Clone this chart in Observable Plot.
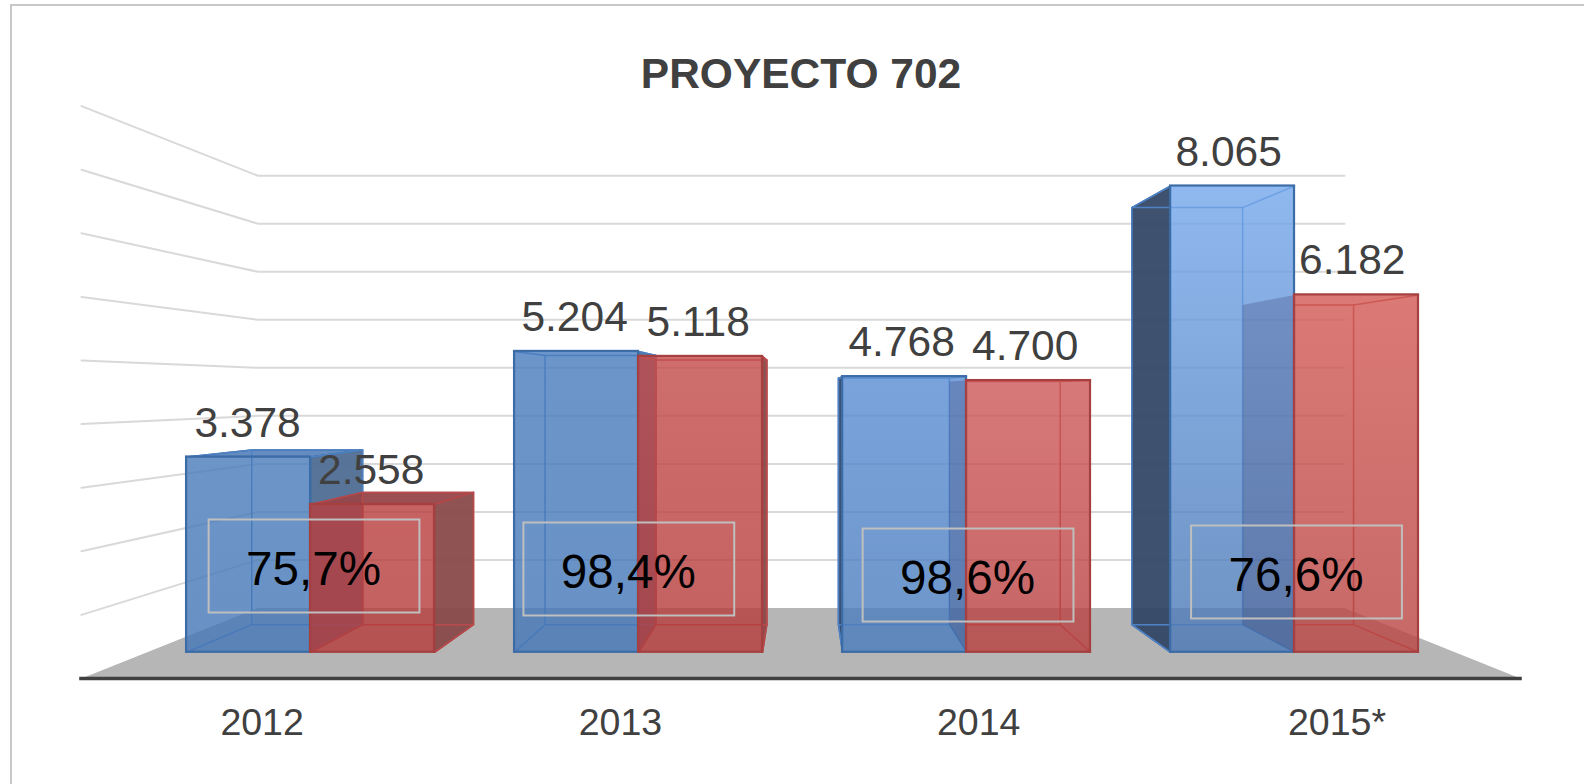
<!DOCTYPE html>
<html>
<head>
<meta charset="utf-8">
<script src="https://cdn.jsdelivr.net/npm/d3@7"></script>
<script src="https://cdn.jsdelivr.net/npm/@observablehq/plot@0.6"></script>
<style>
  html, body { margin: 0; padding: 0; background: #fff; overflow: hidden; }
  #chart { position: relative; width: 1584px; height: 784px; }
  #chart svg { position: absolute; left: 0; top: 0; }
  #edge { position: absolute; left: 10px; top: 4px; right: 0; bottom: 0; border-left: 2px solid #c8c8c8; border-top: 2px solid #c8c8c8; }
</style>
</head>
<body>
<div id="chart"><div id="edge"></div></div>
<script>
// ---- data ----
const years = ["2012", "2013", "2014", "2015*"];
const series1 = [3378, 5204, 4768, 8065];
const series2 = [2558, 5118, 4700, 6182];
const shares = ["75,7%", "98,4%", "98,6%", "76,6%"];
const gridValues = [1000, 2000, 3000, 4000, 5000, 6000, 7000, 8000, 9000];
const title = "PROYECTO 702";

// ---- perspective model (chart units: categories across, values up) ----
const numFmt = (v) => d3.format(",")(v).replace(",", ".");
const HORIZON = 4528, CENTER = 2.003;
const WALL = 0.755, BAR_BACK = 0.813, BAR_FRONT = 0.909, FRONT = 1;
const BAR_W = 0.378, BAR_SPREAD = 1.003, BAR_SHIFT = 0.004;
const px = (c, s) => CENTER + (c - CENTER) * s;
const py = (v, s) => HORIZON + (v - HORIZON) * s;
const pt = (c, v, s) => ({x: px(c, s), y: py(v, s)});
const bpt = (c, v, s) => ({x: px(c, s * BAR_SPREAD) + BAR_SHIFT, y: py(v, s)});

// annotation placement in chart units, per category
const noteDx = [0.011, -0.023, 0.011, 0.015];
const noteMid = [1761, 1714, 1619, 1667];
const NOTE_HALF_W = 0.293, NOTE_HALF_H = 731;
const tickAt = years.map((_, i) => 0.502 + i * 0.996);

const poly = (pts, o) => Plot.line(pts, {x: "x", y: "y", curve: "linear-closed", ...o});

const blueTone = [["#4a7cbb", "#4577b7"], ["#4a7dbe", "#4577b7"], ["#5b8ed4", "#4a7cbc"], ["#75a8ec", "#4b78b4"]];
const redTone = [["#b93e3e", "#b53c3c"], ["#c44c4c", "#b53c3c"], ["#cf5a5a", "#b84040"], ["#d25a55", "#b94644"]];

const defs = [];
function gradient(id, [top, bottom]) {
  defs.push(`<linearGradient id="${id}" x1="0" y1="0" x2="0" y2="1"><stop offset="0" stop-color="${top}"/><stop offset="1" stop-color="${bottom}"/></linearGradient>`);
  return `url(#${id})`;
}

function box(values, tones, offset, style) {
  const marks = [];
  values.forEach((v, i) => {
    const c0 = i + 0.5 + offset, c1 = c0 + BAR_W;
    const f = BAR_FRONT, b = BAR_BACK;
    const face = (c) => [bpt(c, 0, f), bpt(c, v, f), bpt(c, v, b), bpt(c, 0, b)];
    // upper face seen from above
    if (v < HORIZON) {
      marks.push(poly([bpt(c0, v, f), bpt(c1, v, f), bpt(c1, v, b), bpt(c0, v, b)],
        {fill: style.top, fillOpacity: 0.95, stroke: style.edge, strokeWidth: 1.5}));
    }
    // sides seen from outside
    const leftOuter = c0 > CENTER;
    if (leftOuter) marks.push(poly(face(c0), {fill: style.left, fillOpacity: style.leftOpacity, stroke: style.leftStroke, strokeWidth: 1.5}));
    if (c1 < CENTER) marks.push(poly(face(c1), {fill: style.right, fillOpacity: 0.95, stroke: style.edge, strokeWidth: 1.5}));
    // inner frame edges
    const hideLeft = leftOuter && style.leftStroke === "none";
    const frontLeftX = bpt(c0, 0, f).x;
    const backTopLeft = hideLeft ? {x: frontLeftX, y: py(v, b)} : bpt(c0, v, b);
    const backBottomLeft = hideLeft ? {x: frontLeftX, y: py(0, b)} : bpt(c0, 0, b);
    const inner = [[backBottomLeft, ...(hideLeft ? [] : [backTopLeft]), ...(hideLeft ? [bpt(c1, 0, b), bpt(c1, v, b), backTopLeft] : [bpt(c1, v, b), bpt(c1, 0, b), backBottomLeft])],
      [bpt(c1, v, f), bpt(c1, v, b)], [bpt(c1, 0, f), bpt(c1, 0, b)]];
    if (!hideLeft) inner.push([bpt(c0, v, f), bpt(c0, v, b)], [bpt(c0, 0, f), bpt(c0, 0, b)]);
    inner.forEach((l) => marks.push(Plot.line(l, {x: "x", y: "y", stroke: style.inner, strokeWidth: 1.5})));
    // front
    marks.push(Plot.rect([{}], {
      x1: () => bpt(c0, 0, f).x, x2: () => bpt(c1, 0, f).x, y1: () => py(0, f), y2: () => py(v, f),
      fill: gradient(`${style.id}${i}`, tones[i]), fillOpacity: 0.81, stroke: style.edge, strokeWidth: 2.2
    }));
  });
  return marks;
}

const blueStyle = {id: "b", top: "#5c86bd", left: "#2f4564", leftOpacity: 0.93, leftStroke: "#3c6ca6", right: "#4f6d92", edge: "#3c6ca6", inner: "#4f82c4"};
const redStyle = {id: "r", top: "#974649", left: "#303060", leftOpacity: 0.25, leftStroke: "none", right: "#8a4a4a", edge: "#a53f40", inner: "#b94a4c"};

const gridPts = gridValues.flatMap((v) => [
  {v, ...pt(0, v, FRONT)}, {v, ...pt(0, v, WALL)}, {v, ...pt(4, v, WALL)}
]);
const labelRows = (vals, off) => vals.map((v, i) => ({
  text: numFmt(v), x: px(i + 0.5 + off, BAR_FRONT), y: py(v, BAR_FRONT)
}));
const noteRows = years.map((_, i) => ({
  text: shares[i],
  x: px(i + 0.5, BAR_FRONT) + noteDx[i],
  y: noteMid[i]
}));

const textFont = {fontFamily: "'Liberation Sans', Arial, sans-serif"};

const plot = Plot.plot({
  width: 1584, height: 784,
  marginLeft: 81, marginRight: 64, marginTop: 0, marginBottom: 106,
  x: {domain: [0, 4], axis: null},
  y: {domain: [0, 10660], axis: null},
  style: {...textFont, background: "transparent", overflow: "visible"},
  marks: [
    Plot.line(gridPts, {x: "x", y: "y", z: "v", stroke: "#d9d9d9", strokeWidth: 2}),
    poly([pt(0, 0, FRONT), pt(4, 0, FRONT), pt(4, 0, WALL), pt(0, 0, WALL)], {fill: "#b6b6b6"}),
    ...box(series1, blueTone, -BAR_W, blueStyle),
    ...box(series2, redTone, 0, redStyle),
    Plot.ruleY([0], {x1: -0.005, x2: 4.005, stroke: "#404040", strokeWidth: 3.5}),
    Plot.axisX({
      ticks: tickAt,
      tickFormat: (d) => years[tickAt.indexOf(d)],
      tickSize: 0, tickPadding: 30, fontSize: 37.5, fill: "#404040", label: null, anchor: "bottom"
    }),
    Plot.text(labelRows(series1, -BAR_W / 2), {x: "x", y: "y", text: "text", dy: -34, dx: -1.2, fontSize: 42.5, fill: "#404040"}),
    Plot.text(labelRows(series2, BAR_W / 2), {x: "x", y: "y", text: "text", dy: -34, dx: -1.2, fontSize: 42.5, fill: "#404040"}),
    Plot.rect(noteRows, {
      x1: (d) => d.x - NOTE_HALF_W, x2: (d) => d.x + NOTE_HALF_W,
      y1: (d) => d.y - NOTE_HALF_H, y2: (d) => d.y + NOTE_HALF_H,
      stroke: "#bfbfbf", strokeWidth: 2, fill: "none"
    }),
    Plot.text(noteRows, {x: "x", y: "y", text: "text", dy: 3, dx: -1, fontSize: 47.6, fill: "#000"}),
    Plot.text([title], {frameAnchor: "top", dy: 57, fontSize: 42.5, fontWeight: "bold", fill: "#404040"})
  ]
});
const ns = "http://www.w3.org/2000/svg";
const defsEl = document.createElementNS(ns, "defs");
defsEl.innerHTML = defs.join("");
plot.insertBefore(defsEl, plot.firstChild);
document.getElementById("chart").appendChild(plot);
</script>
</body>
</html>
